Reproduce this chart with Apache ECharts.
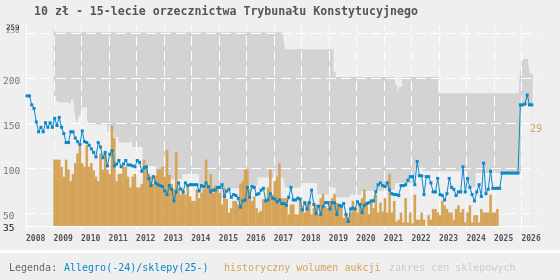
<!DOCTYPE html>
<html>
<head>
<meta charset="utf-8">
<script src="https://cdn.jsdelivr.net/npm/echarts@6/dist/echarts.min.js"></script>
<style>
  html, body { margin: 0; padding: 0; background: #efefef; }
  #chart { width: 560px; height: 280px; }
</style>
</head>
<body>
<div id="chart"></div>
<script>
// tick labels
var years = [2008,2009,2010,2011,2012,2013,2014,2015,2016,2017,2018,2019,2020,2021,2022,2023,2024,2025,2026];
var yTicks = [35,50,100,150,200,250];
var yTop = [259];
var gridValues = [50,100,150,200,250];

// Allegro / sklepy - monthly, from 2008-01
var allegroStart = 2008;
var allegro = [
  180,180,170,166,151,140,145,140,150,145,150,145,155,147,156,145,138,128,128,140,
  140,133,129,126,141,129,128,125,121,117,112,128,123,111,117,102,115,119,102,104,
  108,101,104,108,103,103,102,101,108,106,96,100,101,88,80,90,83,
  81,80,79,74,70,80,76,63,73,83,76,73,83,80,81,81,81,81,74,80,
  79,83,79,73,75,75,78,78,81,68,74,76,67,70,69,66,56,63,64,78,
  67,79,78,70,71,75,77,63,64,71,66,65,62,64,60,60,
  58,67,78,64,64,66,65,53,61,54,61,75,59,49,57,48,57,61,61,54,
  61,61,48,58,57,60,48,40,54,55,54,62,59,50,58,60,61,63,63,73,
  81,83,80,79,83,75,71,70,70,69,80,80,81,86,90,90,81,
  107,91,91,70,90,90,83,73,73,88,70,69,64,71,88,78,76,69,73,73,
  101,73,88,78,70,63,73,81,68,105,71,76,96,77,77,77,77,
  94,94,94,94,94,94,94,94,
  170,170,171,181,170,170
];

// historyczny wolumen aukcji - monthly, from 2009-01
var volumeStart = 2009;
var volume = [
  109,109,109,101,90,109,98,85,93,105,116,127,105,101,125,101,105,97,90,85,
  116,98,117,98,93,147,133,85,93,93,101,101,90,78,90,93,78,78,82,109,
  101,93,90,82,
  91,98,98,101,90,120,92,82,76,117,78,70,74,70,80,68,63,63,76,66,
  72,76,109,80,93,72,80,76,72,59,78,65,50,55,63,63,59,82,85,98,
  98,76,63,68,55,50,52,65,63,78,98,70,85,90,105,66,66,66,
  48,59,59,48,48,64,55,50,61,63,48,55,59,48,66,71,57,55,63,66,
  71,61,57,59,44,48,44,50,63,55,50,61,66,76,59,48,63,55,70,50,
  61,51,66,50,93,50,63,40,42,50,39,66,39,50,38,
  70,42,42,50,42,35,47,42,54,54,50,47,63,58,54,50,50,42,54,58,
  50,54,39,50,58,39,47,47,39,54,50,50,50,70,50,50,54
];

// zakres cen sklepowych - change points
var bandYears = [2009.00,2009.06,2009.09,2009.15,2009.51,2009.63,2009.71,2009.78,2009.85,2009.91,
  2010.00,2010.21,2010.27,2010.95,2011.20,2011.36,2011.81,2011.87,2012.23,2012.73,
  2013.68,2014.29,2014.90,2015.13,2015.80,2016.41,2017.34,2017.41,2017.98,2018.58,
  2019.01,2019.17,2019.25,2019.77,2020.17,2020.86,2021.40,2021.48,2021.55,2021.66,
  2022.13,2022.40,2022.97,2024.03,2024.15,2024.33,2025.90,2025.94,2026.00,2026.06,
  2026.24,2026.30,2026.41];
var bandLow = [179,179,176,173,171,176,180,158,149,158,
  167,154,148,140,134,128,134,123,102,87,
  93,75,66,77,80,89,89,78,83,70,
  78,78,67,70,74,76,83,83,83,83,
  100,96,96,85,78,94,94,94,170,170,
  170,170,170];
var bandHigh = [259,251,251,251,251,251,251,251,251,251,
  251,251,251,251,251,251,251,251,251,251,
  251,251,251,251,251,251,246,232,232,232,
  232,207,201,201,201,201,192,184,190,201,
  201,201,183,183,183,183,186,205,216,221,
  216,205,205];

var FONT = '"DejaVu Sans Mono", monospace';
var BG = '#efefef';
var BLUE = '#0b87cc';
var ORANGE = '#d5a459';

var allegroData = allegro.map(function (v, i) { return [allegroStart + (i + 0.5) / 12, v]; });
var volumeData = volume.map(function (v, i) { return [volumeStart + (i + 0.5) / 12, v]; });
var highData = bandYears.map(function (y, i) { return [y, bandHigh[i]]; });
var lowData = bandYears.map(function (y, i) { return [y, bandLow[i]]; });
var hGridData = gridValues.map(function (v) { return [years[0], v]; });
var vGridData = years.slice(1).map(function (y) { return [y, yTicks[0]]; });

// dashed white grid, drawn above the band but under bars
function gridLine(horizontal) {
  return function (params, api) {
    var cs = params.coordSys;
    var p = api.coord([api.value(0), api.value(1)]);
    var shape;
    if (horizontal) {
      var y = Math.round(p[1]) + 0.5;
      shape = { x1: cs.x, y1: y, x2: cs.x + cs.width, y2: y };
    } else {
      var x = Math.round(p[0]) + 0.5;
      shape = { x1: x, y1: cs.y + cs.height, x2: x, y2: cs.y };
    }
    return { type: 'line', shape: shape, style: { stroke: '#ffffff', lineWidth: 1, lineDash: [10, 5], fill: null } };
  };
}

var myChart = echarts.init(document.getElementById('chart'));
var option = {
  backgroundColor: BG,
  animation: false,
  title: {
    text: '10 zł - 15-lecie orzecznictwa Trybunału Konstytucyjnego',
    left: 29, top: 1,
    textStyle: { fontFamily: FONT, fontSize: 11.6, fontWeight: 'bold', color: '#555' }
  },
  grid: { left: 26, right: 22, top: 25, bottom: 54 },
  xAxis: {
    type: 'value', min: 2008, max: 2026.6, interval: 1, z: 5,
    axisLine: { onZero: false, lineStyle: { color: '#ffffff', width: 1 } },
    axisTick: { show: true, customValues: years, length: 4, lineStyle: { color: '#ffffff' } },
    axisLabel: {
      customValues: years, align: 'left', margin: 9,
      showMinLabel: true, showMaxLabel: true,
      fontFamily: FONT, fontSize: 8, fontWeight: 'bold', color: '#555',
      formatter: function (v) { return String(v); }
    },
    splitLine: { show: false }
  },
  yAxis: [
    {
      type: 'value', min: 35, max: 259, z: 5,
      axisLine: { show: true, lineStyle: { color: '#ffffff', width: 1 } },
      axisTick: { show: false },
      splitLine: { show: false },
      axisLabel: {
        customValues: yTicks, align: 'left', margin: 23,
        showMinLabel: true, showMaxLabel: true,
        formatter: function (v) {
          if (v === 250) return '{sub|250}';
          if (v === 35) return '{low|35}';
          return '{n|' + v + '}';
        },
        rich: {
          sub: { fontFamily: FONT, fontSize: 7.5, color: '#888', padding: [0, 0, 5, 3] },
          low: { fontFamily: FONT, fontSize: 9.5, color: '#111', padding: [5, 0, 0, 0] },
          n: { fontFamily: FONT, fontSize: 9.5, color: '#777', padding: [7, 0, 0, 0] }
        }
      }
    },
    {
      type: 'value', min: 35, max: 259, position: 'left', z: 5,
      axisLine: { show: false }, axisTick: { show: false }, splitLine: { show: false },
      axisLabel: {
        customValues: yTop, align: 'left', margin: 23, showMaxLabel: true,
        formatter: function (v) { return '{top|' + v + '}'; },
        rich: { top: { fontFamily: FONT, fontSize: 7.5, color: '#222', padding: [6, 0, 0, 3] } }
      }
    }
  ],
  series: [
    {
      name: 'zakres cen sklepowych', type: 'line', data: highData, step: 'end',
      symbol: 'none', lineStyle: { width: 0, opacity: 0 }, z: 1,
      areaStyle: { color: '#d3d3d3', opacity: 1, origin: 'start' }
    },
    {
      name: 'band-low', type: 'line', data: lowData, step: 'end',
      symbol: 'none', lineStyle: { width: 0, opacity: 0 }, z: 2,
      areaStyle: { color: BG, opacity: 1, origin: 'start' }
    },
    { name: 'grid-h', type: 'custom', data: hGridData, renderItem: gridLine(true), silent: true, z: 5 },
    { name: 'grid-v', type: 'custom', data: vGridData, renderItem: gridLine(false), silent: true, z: 5 },
    {
      name: 'historyczny wolumen aukcji', type: 'bar', data: volumeData,
      barWidth: 2.6, itemStyle: { color: ORANGE }, z: 6
    },
    {
      name: 'Allegro(-24)/sklepy(25-)', type: 'line', data: allegroData,
      symbol: 'rect', symbolSize: 3,
      lineStyle: { color: BLUE, width: 1 }, itemStyle: { color: BLUE }, z: 7
    }
  ],
  graphic: [
    { type: 'rect', z: 10, shape: { x: 0, y: 250, width: 560, height: 3 }, style: { fill: '#ffffff' } },
    { type: 'text', z: 10, x: 9, y: 268, style: { text: 'Legenda:', font: '10px ' + FONT, fill: '#666', verticalAlign: 'middle' } },
    { type: 'text', z: 10, x: 64, y: 268, style: { text: 'Allegro(-24)/sklepy(25-)', font: '10px ' + FONT, fill: BLUE, verticalAlign: 'middle' } },
    { type: 'text', z: 10, x: 224, y: 268, style: { text: 'historyczny wolumen aukcji', font: '10px ' + FONT, fill: ORANGE, verticalAlign: 'middle' } },
    { type: 'text', z: 10, x: 389, y: 268, style: { text: 'zakres cen sklepowych', font: '10px ' + FONT, fill: '#cccccc', verticalAlign: 'middle' } },
    { type: 'text', z: 10, x: 530, y: 129, style: { text: '29', font: '10px ' + FONT, fill: ORANGE, verticalAlign: 'middle' } }
  ]
};
myChart.setOption(option);
window.addEventListener('resize', function () { myChart.resize(); });
</script>
</body>
</html>
